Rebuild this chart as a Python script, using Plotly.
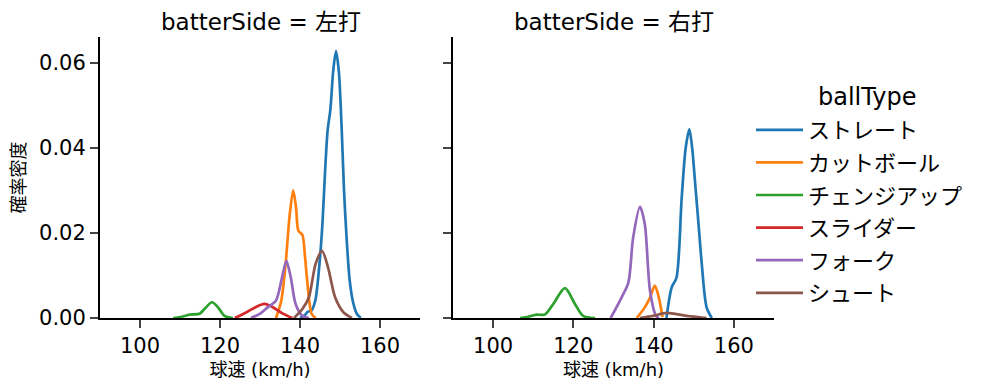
import plotly.graph_objects as go

FONT = "DejaVu Sans, Noto Sans CJK JP"
ball_types = ["ストレート", "カットボール", "チェンジアップ", "スライダー", "フォーク", "シュート"]
colors = ["#1f77b4", "#ff7f0e", "#2ca02c", "#d62728", "#9467bd", "#8c564b"]
panels = ["左打", "右打"]

# KDE curves: (speed km/h, density)
left_x = {
    "ストレート": [140.0, 141.0, 142.0, 142.8, 143.8, 144.8, 145.6, 146.3, 146.9, 147.6, 148.3, 149.0, 149.7, 150.4, 151.0, 151.7, 152.4, 153.2, 154.2, 155.2],
    "カットボール": [134.0, 135.3, 136.4, 137.4, 138.3, 139.0, 139.6, 140.6, 141.2, 141.8, 142.9, 143.9],
    "チェンジアップ": [108.3, 110.5, 112.4, 114.9, 116.1, 118.0, 119.5, 121.1, 123.2],
    "スライダー": [123.7, 126.5, 129.0, 131.1, 133.1, 135.6, 138.1],
    "フォーク": [127.7, 129.8, 131.9, 134.0, 135.5, 136.6, 137.7, 138.9, 140.6, 142.2],
    "シュート": [138.5, 140.6, 142.2, 143.9, 145.5, 147.0, 148.8, 150.9, 153.0],
}
left_y = {
    "ストレート": [0.0, 0.0005, 0.0015, 0.0017, 0.004, 0.012, 0.022, 0.035, 0.044, 0.049, 0.058, 0.0627, 0.058, 0.045, 0.030, 0.018, 0.009, 0.004, 0.001, 0.0],
    "カットボール": [0.0, 0.004, 0.0127, 0.024, 0.030, 0.026, 0.0205, 0.0195, 0.015, 0.0087, 0.001, 0.0],
    "チェンジアップ": [0.0, 0.0003, 0.0008, 0.001, 0.0021, 0.0037, 0.0025, 0.0005, 0.0],
    "スライダー": [0.0, 0.0013, 0.0026, 0.0033, 0.0026, 0.0011, 0.0],
    "フォーク": [0.0, 0.0009, 0.0025, 0.0041, 0.0095, 0.0134, 0.0095, 0.0033, 0.0005, 0.0],
    "シュート": [0.0, 0.0021, 0.0048, 0.0127, 0.0158, 0.0119, 0.0048, 0.0013, 0.0],
}
right_x = {
    "ストレート": [143.2, 144.5, 145.7, 147.0, 148.0, 148.9, 149.6, 150.3, 151.2, 152.0, 153.2, 154.5],
    "カットボール": [135.8, 137.8, 139.1, 140.3, 141.3, 142.2],
    "チェンジアップ": [106.7, 108.8, 110.8, 112.9, 115.0, 117.9, 120.4, 122.4, 125.4],
    "スライダー": [],
    "フォーク": [129.3, 132.0, 133.7, 134.9, 136.6, 137.8, 139.1, 140.6, 141.3],
    "シュート": [136.6, 139.9, 143.2, 148.2, 153.2],
}
right_y = {
    "ストレート": [0.0, 0.0072, 0.0095, 0.0283, 0.040, 0.0443, 0.040, 0.0322, 0.022, 0.0127, 0.0025, 0.0],
    "カットボール": [0.0, 0.0025, 0.0048, 0.0076, 0.0048, 0.0002],
    "チェンジアップ": [0.0, 0.0003, 0.0008, 0.0008, 0.0033, 0.0070, 0.0033, 0.0005, 0.0],
    "スライダー": [],
    "フォーク": [0.0, 0.0048, 0.0083, 0.0189, 0.0261, 0.0220, 0.0064, 0.0005, 0.0],
    "シュート": [0.0, 0.0005, 0.0012, 0.0005, 0.0],
}
x_ticks = [100, 120, 140, 160]
y_ticks = [0.00, 0.02, 0.04, 0.06]

fig = go.Figure()
for i, bt in enumerate(ball_types):
    fig.add_trace(go.Scatter(
        x=left_x[bt], y=left_y[bt], mode="lines", name=bt,
        line=dict(color=colors[i], width=2.7, shape="spline", smoothing=0.8),
        legendgroup=bt, showlegend=True, xaxis="x", yaxis="y"))
    fig.add_trace(go.Scatter(
        x=right_x[bt], y=right_y[bt], mode="lines", name=bt,
        line=dict(color=colors[i], width=2.7, shape="spline", smoothing=0.8),
        legendgroup=bt, showlegend=False, xaxis="x2", yaxis="y2"))

# page body has an 8px margin: convert screen pixels to paper fractions
OFF = 8
W = 999 - OFF
H = 391 - OFF


def sx(p):
    return (p - OFF) / W


def sy(p):
    return 1 - (p - OFF) / H


ydom = [sy(318), sy(37)]
common_x = dict(range=[90, 170], tickvals=x_ticks, ticks="outside", ticklen=8, tickwidth=2,
                showline=True, linecolor="black", linewidth=2, showgrid=False, zeroline=False,
                automargin=False,
                tickfont=dict(size=21, color="black", family=FONT),
                title=dict(text="球速 (km/h)", font=dict(size=18, color="black", family=FONT), standoff=6))
common_y = dict(range=[0, 0.066], tickvals=y_ticks, tickformat=".2f", ticks="outside", ticklen=8,
                tickwidth=2, showline=True, linecolor="black", linewidth=2, showgrid=False,
                zeroline=False, domain=ydom, automargin=False,
                tickfont=dict(size=21, color="black", family=FONT))

fig.update_layout(
    width=W, height=H,
    margin=dict(l=0, r=0, t=0, b=0),
    paper_bgcolor="white", plot_bgcolor="white",
    font=dict(family=FONT, color="black"),
    xaxis=dict(domain=[sx(100), sx(420)], anchor="y", **common_x),
    xaxis2=dict(domain=[sx(453), sx(774)], anchor="y2", **common_x),
    yaxis=dict(anchor="x", title=dict(text="確率密度", font=dict(size=18, color="black", family=FONT), standoff=12), **common_y),
    yaxis2=dict(anchor="x2", showticklabels=False, **common_y),
    legend=dict(x=sx(751), y=sy(109), xanchor="left", yanchor="top",
                font=dict(size=22, color="black", family=FONT),
                itemwidth=47,
                tracegroupgap=1, bgcolor="rgba(0,0,0,0)"),
    annotations=[
        dict(text="batterSide = " + panels[0], x=sx(261), y=sy(22), xref="paper", yref="paper",
             showarrow=False, font=dict(size=23, color="black", family=FONT), xanchor="center", yanchor="middle"),
        dict(text="batterSide = " + panels[1], x=sx(614), y=sy(22), xref="paper", yref="paper",
             showarrow=False, font=dict(size=23, color="black", family=FONT), xanchor="center", yanchor="middle"),
        dict(text="ballType", x=sx(867), y=sy(97), xref="paper", yref="paper",
             showarrow=False, font=dict(size=24, color="black", family=FONT), xanchor="center", yanchor="middle"),
    ],
)

fig.write_html("out.html")
